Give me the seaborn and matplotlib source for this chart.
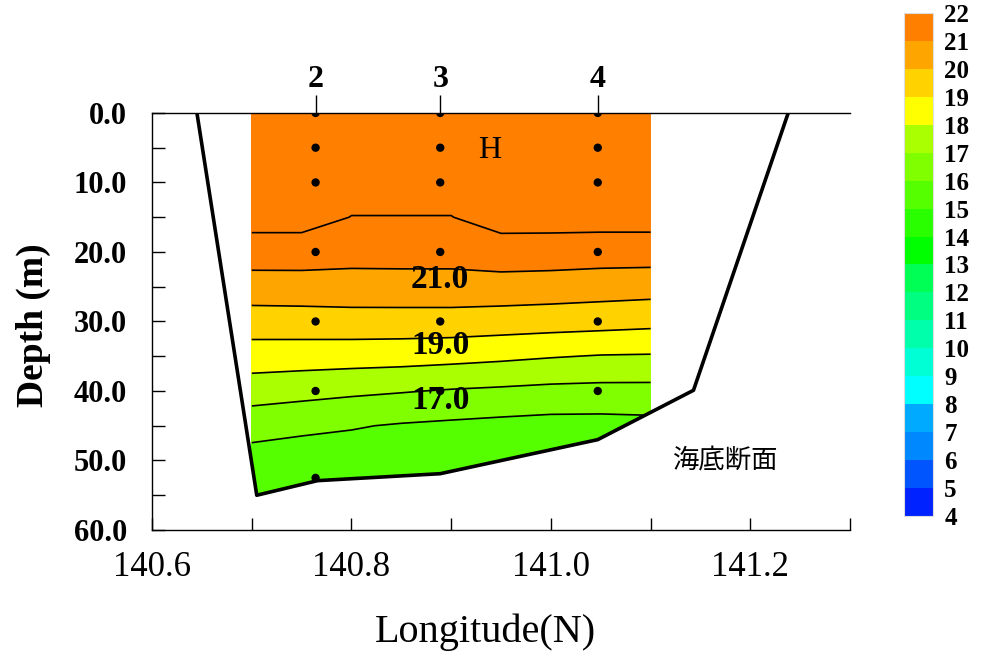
import numpy as np
import pandas as pd
import seaborn as sns
import matplotlib
matplotlib.use('Agg')
import matplotlib.pyplot as plt
from matplotlib.colors import ListedColormap, BoundaryNorm
from matplotlib.cm import ScalarMappable
from matplotlib.patches import Polygon
from matplotlib.ticker import MultipleLocator, FormatStrFormatter

sns.set_style('ticks')
plt.rcParams['font.family'] = ['Liberation Serif', 'Noto Sans CJK JP']
for key in ['text.color', 'axes.labelcolor', 'xtick.color', 'ytick.color']:
    plt.rcParams[key] = 'black'

# temperature section (rows = depth, columns = longitude), deg C
grid_lon = [140.70, 140.75, 140.80, 140.85, 140.90, 140.95, 141.00, 141.05, 141.10]
grid_depth = [0, 5, 10, 15, 20, 25, 30, 35, 40, 45, 50, 55]
temp = [
    [22.40, 22.40, 22.40, 22.40, 22.40, 22.40, 22.40, 22.40, 22.40],
    [22.40, 22.40, 22.40, 22.40, 22.40, 22.40, 22.40, 22.40, 22.40],
    [22.40, 22.40, 22.40, 22.40, 22.40, 22.40, 22.40, 22.40, 22.40],
    [22.40, 22.40, 21.98, 21.98, 21.98, 22.40, 22.40, 22.40, 22.40],
    [21.50, 21.50, 21.36, 21.37, 21.37, 21.54, 21.52, 21.47, 21.47],
    [20.55, 20.56, 20.60, 20.61, 20.61, 20.60, 20.55, 20.47, 20.41],
    [19.53, 19.56, 19.59, 19.59, 19.59, 19.52, 19.45, 19.38, 19.28],
    [18.51, 18.48, 18.45, 18.41, 18.32, 18.20, 18.06, 17.95, 17.92],
    [17.47, 17.33, 17.18, 17.06, 16.93, 16.84, 16.74, 16.70, 16.70],
    [16.38, 16.21, 16.07, 15.92, 15.82, 15.72, 15.64, 15.64, 15.70],
    [15.60, 15.50, 15.50, 15.45, 15.40, 15.40, 15.35, 15.35, 15.40],
    [15.30, 15.30, 15.30, 15.25, 15.20, 15.20, 15.20, 15.20, 15.20],
]

# seabed profile
seabed_lon = [140.645, 140.705, 140.766, 140.889, 141.047, 141.143, 141.238]
seabed_depth = [0.0, 55.0, 52.9, 51.9, 47.0, 39.9, 0.0]

# stations and sampling depths
station_names = ['2', '3', '4']
station_lon = [140.764, 140.889, 141.047]
sample_depths = [0, 5, 10, 20, 30, 40]
extra_lon = [140.764]
extra_depth = [52.5]

# colour scale
levels = list(range(4, 23))
bin_colors = ['#0022FF', '#0055FF', '#0088FF', '#00AAFF', '#00FFFF', '#00FFD5',
              '#00FFAA', '#00FF80', '#00FF55', '#00FF00', '#2AFF00', '#55FF00',
              '#80FF00', '#AAFF00', '#FFFF00', '#FFD200', '#FFA500', '#FF7F00']
line_levels = [16, 17, 18, 19, 20, 21, 22]
label_levels = [21, 19, 17]

cmap = ListedColormap(bin_colors)
cmap.set_over(bin_colors[-1])
norm = BoundaryNorm(levels, cmap.N)

fig = plt.figure(figsize=(9.81, 6.62), dpi=100)
ax = fig.add_axes([0.155, 0.1994, 0.7115, 0.630])
cax = fig.add_axes([0.9215, 0.2205, 0.0296, 0.760])

X, Y = np.meshgrid(grid_lon, grid_depth)
Z = np.array(temp)

clip = Polygon(np.column_stack([seabed_lon, seabed_depth]), closed=True,
               transform=ax.transData, facecolor='none', edgecolor='none')
ax.add_patch(clip)

cf = ax.contourf(X, Y, Z, levels=levels, cmap=cmap, norm=norm, extend='max')
cf.set_clip_path(clip)
cs = ax.contour(X, Y, Z, levels=line_levels, colors='black', linewidths=1.2)
cs.set_clip_path(clip)

# seabed line
sns.lineplot(x=seabed_lon, y=seabed_depth, color='black', linewidth=2.6,
             estimator=None, sort=False, ax=ax)

# sample points
pts = pd.DataFrame({
    'lon': [lon for lon in station_lon for d in sample_depths] + extra_lon,
    'depth': [d for lon in station_lon for d in sample_depths] + extra_depth,
})
sns.scatterplot(data=pts, x='lon', y='depth', color='black', s=36,
                edgecolor='none', ax=ax, zorder=5)

# station numbers above the section
ax.vlines(station_lon, -2.6, 0, colors='black', linewidth=1.0, clip_on=False)
for name, lon in zip(station_names, station_lon):
    ax.text(lon, -4.8, name, ha='center', va='center', fontsize=23,
            fontweight='bold', clip_on=False)

# contour labels
label_depth = [24.0, 33.4, 41.3]
for lvl, d in zip(label_levels, label_depth):
    ax.text(station_lon[1], d, f'{lvl:.1f}', ha='center', va='center',
            fontsize=24, fontweight='bold', zorder=6)

ax.text(140.939, 5.4, 'H', ha='center', va='center', fontsize=23)
ax.text(141.122, 50.0, '海底断面', ha='left', va='center', fontsize=19)

ax.set_xlim(140.6, 141.3)
ax.set_ylim(60, 0)
ax.xaxis.set_major_locator(MultipleLocator(0.2))
ax.xaxis.set_minor_locator(MultipleLocator(0.1))
ax.xaxis.set_major_formatter(FormatStrFormatter('%.1f'))
ax.yaxis.set_major_locator(MultipleLocator(10))
ax.yaxis.set_minor_locator(MultipleLocator(5))
ax.yaxis.set_major_formatter(FormatStrFormatter('%.1f'))
ax.tick_params(axis='both', which='both', direction='in', length=9, width=1.0,
               color='black')
ax.tick_params(axis='x', which='major', labelsize=25, pad=15)
ax.tick_params(axis='y', which='major', labelsize=22, pad=18)
for lab in ax.get_yticklabels():
    lab.set_fontweight('bold')

ax.spines['right'].set_visible(False)
for side in ['left', 'bottom', 'top']:
    ax.spines[side].set_linewidth(1.0)
    ax.spines[side].set_color('black')

ax.set_xlabel('Longitude(N)', fontsize=29)
ax.set_ylabel('Depth (m)', fontsize=27, fontweight='bold')
ax.xaxis.set_label_coords(0.478, -0.20)
ax.yaxis.set_label_coords(-0.145, 0.49)

cbar = fig.colorbar(ScalarMappable(norm=norm, cmap=cmap), cax=cax, ticks=levels)
cbar.outline.set_edgecolor('#dddddd')
cbar.outline.set_linewidth(0.8)
cax.tick_params(length=0, pad=8, labelsize=18)
for lab in cax.get_yticklabels():
    lab.set_fontweight('bold')

fig.savefig('out.png', dpi=100)
